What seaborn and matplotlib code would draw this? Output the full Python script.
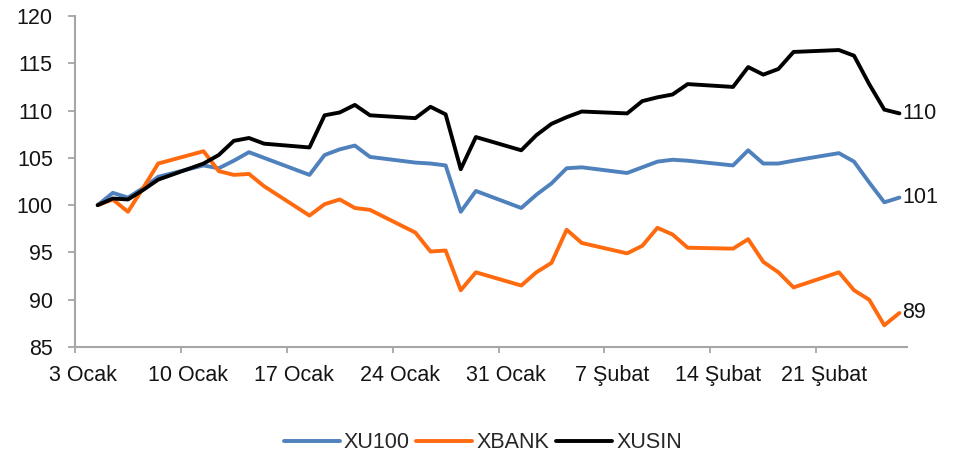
import pandas as pd
import matplotlib
matplotlib.use('Agg')
import matplotlib.pyplot as plt
import seaborn as sns

# Islem gunleri (4 Ocak - 26 Subat 2010)
tarihler = pd.bdate_range('2010-01-04', '2010-02-26')

# Endeks degerleri (baslangic = 100)
xu100 = [100.0, 101.3, 100.8, 101.8, 103.0,
         104.2, 103.9, 104.7, 105.6, 105.0,
         103.2, 105.3, 105.9, 106.3, 105.1,
         104.5, 104.4, 104.2, 99.3, 101.5,
         99.7, 101.1, 102.3, 103.9, 104.0,
         103.4, 104.0, 104.6, 104.8, 104.7,
         104.2, 105.8, 104.4, 104.4, 104.7,
         105.5, 104.6, 102.4, 100.3, 100.8]
xbank = [100.0, 100.6, 99.3, 101.8, 104.4,
         105.7, 103.6, 103.2, 103.3, 102.0,
         98.9, 100.1, 100.6, 99.7, 99.5,
         97.1, 95.1, 95.2, 91.0, 92.9,
         91.5, 92.9, 93.9, 97.4, 96.0,
         94.9, 95.7, 97.6, 96.9, 95.5,
         95.4, 96.4, 94.0, 92.9, 91.3,
         92.9, 91.0, 90.0, 87.3, 88.6]
xusin = [100.0, 100.7, 100.6, 101.6, 102.7,
         104.4, 105.3, 106.8, 107.1, 106.5,
         106.1, 109.5, 109.8, 110.6, 109.5,
         109.2, 110.4, 109.6, 103.8, 107.2,
         105.8, 107.4, 108.6, 109.3, 109.9,
         109.7, 111.0, 111.4, 111.7, 112.8,
         112.5, 114.6, 113.8, 114.4, 116.2,
         116.4, 115.8, 112.8, 110.1, 109.7]

tick_tarihleri = ['2010-01-03', '2010-01-10', '2010-01-17', '2010-01-24',
                  '2010-01-31', '2010-02-07', '2010-02-14', '2010-02-21']
tick_etiketleri = ['3 Ocak', '10 Ocak', '17 Ocak', '24 Ocak',
                   '31 Ocak', '7 Şubat', '14 Şubat', '21 Şubat']

renkler = {'XU100': '#4F81BD', 'XBANK': '#FF6A0E', 'XUSIN': '#000000'}

# gun sayisi, 3 Ocak'tan itibaren; nokta gunun ortasinda (Excel gibi)
bas = pd.Timestamp('2010-01-03')
gun = (tarihler - bas).days + 0.5

df = pd.DataFrame({'gun': gun, 'XU100': xu100, 'XBANK': xbank, 'XUSIN': xusin})
df_long = df.melt(id_vars='gun', var_name='endeks', value_name='deger')

sns.set_style('white')
plt.rcParams['font.family'] = ['Liberation Sans', 'DejaVu Sans']

fig = plt.figure(figsize=(9.55, 4.58), dpi=100)
ax = fig.add_axes([75 / 955, 1 - 347 / 458, 832 / 955, 331 / 458])

sns.lineplot(data=df_long, x='gun', y='deger', hue='endeks', palette=renkler,
             linewidth=2.8, ax=ax)

# seri sonu etiketleri
for isim, seri in [('XUSIN', xusin), ('XU100', xu100), ('XBANK', xbank)]:
    ax.annotate(f'{seri[-1]:.0f}', (gun[-1], seri[-1]), xytext=(2, 0),
                textcoords='offset points', ha='left', va='center',
                fontsize=15.5, color='#141414')

ax.set_xlim(0, 55)
ax.set_ylim(85, 120)
ax.set_yticks(range(85, 121, 5))

tick_gun = [(pd.Timestamp(t) - bas).days for t in tick_tarihleri]
ax.set_xticks([g + 0.5 for g in tick_gun])
ax.set_xticklabels(tick_etiketleri)
ax.set_xticks(tick_gun, minor=True)

ax.tick_params(axis='x', which='major', length=0, pad=13, labelsize=15.5, labelcolor='#141414')
ax.tick_params(axis='x', which='minor', direction='out', length=4, width=1.3,
               color='#A6A6A6', bottom=True)
ax.tick_params(axis='y', direction='out', length=5, width=1.3, color='#A6A6A6',
               pad=11, labelsize=15.5, labelcolor='#141414', left=True)

sns.despine(ax=ax)
for s in ['left', 'bottom']:
    ax.spines[s].set_color('#A6A6A6')
    ax.spines[s].set_linewidth(1.5)

ax.set_xlabel('')
ax.set_ylabel('')

sns.move_legend(ax, 'center', bbox_to_anchor=(0.49, -0.29), ncol=3, frameon=False,
                title=None, fontsize=15.5, handlelength=2.6, handletextpad=0.2,
                columnspacing=0.3)

plt.savefig('out.png', dpi=100)
